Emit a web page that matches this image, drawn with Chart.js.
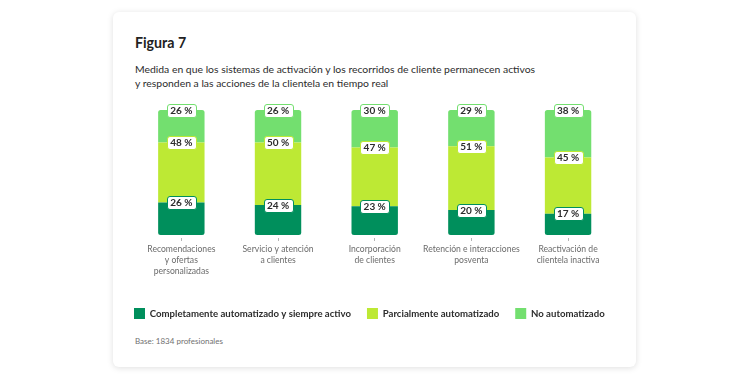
<!DOCTYPE html>
<html lang="es">
<head>
<meta charset="utf-8">
<script src="https://cdn.jsdelivr.net/npm/chart.js@4.4.1/dist/chart.umd.min.js"></script>
<style>
  html, body { margin:0; padding:0; background:#ffffff; width:750px; height:379px; overflow:hidden; }
  body { font-family: Lato, 'Open Sans', sans-serif; position:relative; }
  #card { position:absolute; left:113px; top:12px; width:523px; height:355px; background:#fff;
          border-radius:6px; box-shadow:0 1px 6px rgba(0,0,0,0.13); }
  #title { position:absolute; left:22px; top:22px; font-size:14.2px; line-height:18px; font-weight:700; color:#222; white-space:nowrap; }
  #subtitle { position:absolute; left:22px; top:49.5px; font-size:10.4px; line-height:14.5px; color:#2c2c2c; white-space:nowrap; }
  #chartWrap { position:absolute; left:0; top:83px; width:523px; height:234px; }
  #base { position:absolute; left:22px; top:323.5px; font-size:8px; line-height:10px; color:#707070; white-space:nowrap; }
</style>
</head>
<body>
<div id="card">
  <div id="title">Figura 7</div>
  <div id="subtitle">Medida en que los sistemas de activación y los recorridos de cliente permanecen activos<br>y responden a las acciones de la clientela en tiempo real</div>
  <div id="chartWrap"><canvas id="c" width="523" height="234"></canvas></div>
  <div id="base">Base: 1834 profesionales</div>
</div>
<script>
const categories = [
  ["Recomendaciones", "y ofertas", "personalizadas"],
  ["Servicio y atención", "a clientes"],
  ["Incorporación", "de clientes"],
  ["Retención e interacciones", "posventa"],
  ["Reactivación de", "clientela inactiva"]
];
const seriesNames = ["Completamente automatizado y siempre activo", "Parcialmente automatizado", "No automatizado"];
const fullyAutomated = [26, 24, 23, 20, 17];
const partiallyAutomated = [48, 50, 47, 51, 45];
const notAutomated = [26, 26, 30, 29, 38];
const colors = ["#008F5C", "#BDE934", "#73DF6F"];

const valueLabels = {
  id: 'valueLabels',
  afterDatasetsDraw(chart) {
    const ctx = chart.ctx;
    ctx.save();
    ctx.font = '700 10px Lato';
    ctx.textAlign = 'center';
    ctx.textBaseline = 'middle';
    chart.data.datasets.forEach((ds, i) => {
      const meta = chart.getDatasetMeta(i);
      meta.data.forEach((el, j) => {
        const txt = ds.data[j] + ' %';
        const w = Math.round(ctx.measureText(txt).width + 7);
        const h = 13;
        const x = Math.round(el.x - w / 2) + 0.5;
        const y = Math.round(el.y - h / 2) + 0.5;
        ctx.beginPath();
        ctx.roundRect(x, y, w, h, 2.5);
        ctx.fillStyle = '#ffffff';
        ctx.fill();
        ctx.lineWidth = 1;
        ctx.strokeStyle = ds.backgroundColor;
        ctx.stroke();
        ctx.fillStyle = '#2c2c2c';
        ctx.fillText(txt, el.x, el.y + 0.5);
      });
    });
    ctx.restore();
  }
};

new Chart(document.getElementById('c'), {
  type: 'bar',
  data: {
    labels: categories,
    datasets: [
      { label: seriesNames[0], data: fullyAutomated, backgroundColor: colors[0],
        borderRadius: { bottomLeft: 2.5, bottomRight: 2.5, topLeft: 0, topRight: 0 }, borderSkipped: false },
      { label: seriesNames[1], data: partiallyAutomated, backgroundColor: colors[1],
        borderRadius: 0, borderSkipped: false },
      { label: seriesNames[2], data: notAutomated, backgroundColor: colors[2],
        borderRadius: { topLeft: 2.5, topRight: 2.5, bottomLeft: 0, bottomRight: 0 }, borderSkipped: false }
    ]
  },
  options: {
    responsive: false,
    animation: false,
    devicePixelRatio: 1,
    layout: { padding: { left: 5, right: 0, top: 15, bottom: 0 } },
    datasets: { bar: { categoryPercentage: 1, barPercentage: 0.48 } },
    scales: {
      x: {
        stacked: true,
        grid: { display: true, drawOnChartArea: false, drawTicks: true, offset: false,
                tickLength: 7, tickColor: '#b5b5b5', tickWidth: 1, tickBorderDash: [0, 3, 3, 100] },
        border: { display: false },
        ticks: { color: '#6b6b6b', font: { family: 'Lato', size: 8.6, lineHeight: 1.28 }, padding: 2, maxRotation: 0, autoSkip: false },
        afterFit: (s) => { s.height = 57; }
      },
      y: {
        stacked: true, min: 0, max: 100,
        grid: { display: false }, border: { display: false },
        ticks: { display: false },
        afterFit: (s) => { s.width = 15; }
      },
      yRight: {
        type: 'linear', position: 'right', min: 0, max: 100,
        grid: { display: false }, border: { display: false },
        ticks: { display: false },
        afterFit: (s) => { s.width = 19.6; }
      }
    },
    plugins: {
      legend: {
        position: 'bottom', align: 'start',
        labels: { boxWidth: 11, boxHeight: 11, padding: 16, color: '#2c2c2c',
                  font: { family: 'Lato', size: 9.6, weight: '700' } }
      },
      tooltip: { enabled: false }
    }
  },
  plugins: [valueLabels]
});
</script>
</body>
</html>
